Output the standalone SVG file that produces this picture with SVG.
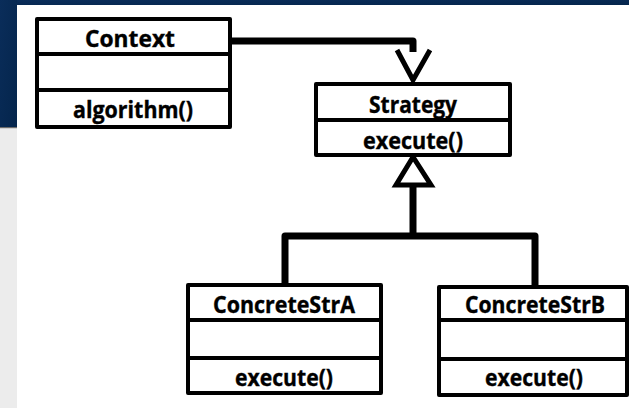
<svg xmlns="http://www.w3.org/2000/svg" width="629" height="408" viewBox="0 0 629 408">
<defs>
<linearGradient id="bg" x1="0" y1="0" x2="1" y2="1">
<stop offset="0" stop-color="#0a2d5a"/>
<stop offset="1" stop-color="#04254c"/>
</linearGradient>
</defs>
<style>
.box{fill:#fff;stroke:#000;stroke-width:4;stroke-linejoin:round}
.div{stroke:#000;stroke-width:4}
.t{font-family:"Open Sans","Liberation Sans",sans-serif;font-weight:bold;font-size:24px;fill:#000;stroke:#000;stroke-width:0.4;text-anchor:middle}
.conn{fill:none;stroke:#000;stroke-width:7;stroke-linejoin:round}
.head{fill:none;stroke:#000;stroke-width:5;stroke-linejoin:miter}
.tri{fill:#fff;stroke:#000;stroke-width:5;stroke-linejoin:miter}
</style>
<rect x="0" y="0" width="629" height="408" fill="#fff"/>
<rect x="0" y="0" width="629" height="5" fill="url(#bg)"/>
<rect x="0" y="0" width="17" height="127" fill="url(#bg)"/>
<rect x="0" y="127" width="17" height="1.5" fill="#6b6b6b"/>
<rect x="0" y="128.5" width="17" height="280" fill="#ececec"/>

<g id="connectors">
<path class="conn" d="M232 41 H413 V52"/>
<polyline class="head" points="397,50 413,80 430,50"/>
<path class="conn" d="M413 185 V236"/>
<path class="conn" d="M285 287 V236 H535 V289"/>
<polygon class="tri" points="413,157 396,185 431,185"/>
</g>

<g id="context">
<rect class="box" x="37" y="19" width="193" height="108"/>
<line class="div" x1="37" y1="54" x2="230" y2="54"/>
<line class="div" x1="37" y1="90" x2="230" y2="90"/>
<text class="t" x="130" y="47" textLength="90" lengthAdjust="spacingAndGlyphs">Context</text>
<text class="t" x="133" y="118" textLength="120" lengthAdjust="spacingAndGlyphs">algorithm()</text>
</g>

<g id="strategy">
<rect class="box" x="316" y="84" width="194" height="71"/>
<line class="div" x1="316" y1="120" x2="510" y2="120"/>
<text class="t" x="413" y="113" textLength="88" lengthAdjust="spacingAndGlyphs">Strategy</text>
<text class="t" x="413" y="149" textLength="100" lengthAdjust="spacingAndGlyphs">execute()</text>
</g>

<g id="concreteA">
<rect class="box" x="188" y="285" width="193" height="108"/>
<line class="div" x1="188" y1="320" x2="381" y2="320"/>
<line class="div" x1="188" y1="358" x2="381" y2="358"/>
<text class="t" x="284" y="313" textLength="142" lengthAdjust="spacingAndGlyphs">ConcreteStrA</text>
<text class="t" x="284" y="386" textLength="98" lengthAdjust="spacingAndGlyphs">execute()</text>
</g>

<g id="concreteB">
<rect class="box" x="439" y="287" width="188" height="108"/>
<line class="div" x1="439" y1="320" x2="627" y2="320"/>
<line class="div" x1="439" y1="359" x2="627" y2="359"/>
<text class="t" x="535" y="313" textLength="140" lengthAdjust="spacingAndGlyphs">ConcreteStrB</text>
<text class="t" x="534" y="386" textLength="98" lengthAdjust="spacingAndGlyphs">execute()</text>
</g>
</svg>
